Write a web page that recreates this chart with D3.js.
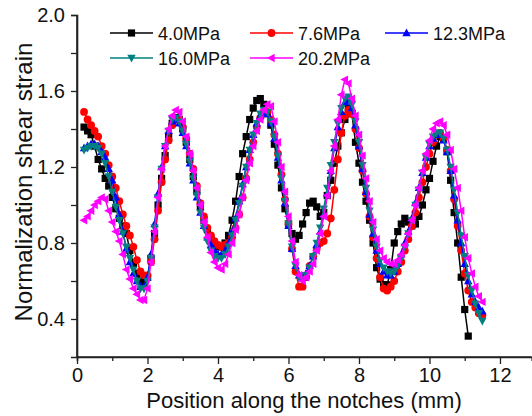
<!DOCTYPE html>
<html>
<head>
<meta charset="utf-8">
<script src="https://cdn.jsdelivr.net/npm/d3@7"></script>
<style>
  body { margin: 0; background: #fff; }
  svg { display: block; font-family: "Liberation Sans", Arial, sans-serif; }
</style>
</head>
<body>
<svg id="chart" width="532" height="416"></svg>
<script>
// measurement positions along the notches (mm)
const positions = [0.2,0.3,0.4,0.5,0.6,0.7,0.8,0.9,1.0,1.1,1.2,1.3,1.4,1.5,1.6,1.7,1.8,1.9,2.0,2.1,2.2,2.3,2.4,2.5,2.6,2.7,2.8,2.9,3.0,3.1,3.2,3.3,3.4,3.5,3.6,3.7,3.8,3.9,4.0,4.1,4.2,4.3,4.4,4.5,4.6,4.7,4.8,4.9,5.0,5.1,5.2,5.3,5.4,5.5,5.6,5.7,5.8,5.9,6.0,6.1,6.2,6.3,6.4,6.5,6.6,6.7,6.8,6.9,7.0,7.1,7.2,7.3,7.4,7.5,7.6,7.7,7.8,7.9,8.0,8.1,8.2,8.3,8.4,8.5,8.6,8.7,8.8,8.9,9.0,9.1,9.2,9.3,9.4,9.5,9.6,9.7,9.8,9.9,10.0,10.1,10.2,10.3,10.4,10.5,10.6,10.7,10.8,10.9,11.0,11.1,11.2,11.3,11.4,11.5];

// normalized shear strain, one value per position (black series stops at 11.1)
const strain4_0 = [1.41,1.39,1.37,1.31,1.24,1.19,1.14,1.10,1.04,0.98,0.93,0.89,0.85,0.76,0.69,0.64,0.60,0.58,0.62,0.72,0.85,1.00,1.14,1.26,1.36,1.43,1.46,1.45,1.40,1.33,1.24,1.15,1.07,0.99,0.92,0.87,0.82,0.79,0.78,0.78,0.80,0.84,0.92,1.02,1.15,1.27,1.36,1.45,1.51,1.55,1.56,1.53,1.48,1.42,1.32,1.21,1.09,0.98,0.90,0.85,0.82,0.84,0.90,0.96,1.01,1.02,0.99,0.94,0.96,1.05,1.13,1.22,1.31,1.38,1.45,1.51,1.48,1.33,1.22,1.12,1.02,0.92,0.80,0.67,0.61,0.58,0.58,0.66,0.80,0.86,0.90,0.93,0.91,0.89,0.90,0.94,1.00,1.08,1.14,1.23,1.31,1.36,1.35,1.28,1.13,0.96,0.80,0.62,0.45,0.31];
const strain7_6 = [1.49,1.45,1.42,1.39,1.36,1.31,1.27,1.21,1.15,1.09,1.02,0.95,0.89,0.84,0.78,0.71,0.65,0.63,0.63,0.70,0.82,0.97,1.12,1.24,1.34,1.42,1.45,1.45,1.41,1.35,1.27,1.19,1.10,1.01,0.94,0.88,0.84,0.81,0.79,0.78,0.79,0.80,0.83,0.88,0.95,1.04,1.14,1.24,1.33,1.41,1.46,1.49,1.49,1.45,1.37,1.27,1.16,1.03,0.90,0.77,0.65,0.57,0.57,0.62,0.68,0.73,0.77,0.80,0.81,0.85,0.93,1.08,1.24,1.38,1.47,1.50,1.48,1.40,1.30,1.18,1.06,0.94,0.83,0.72,0.62,0.56,0.55,0.57,0.60,0.65,0.70,0.76,0.82,0.89,0.96,1.04,1.12,1.20,1.27,1.33,1.37,1.38,1.35,1.29,1.18,1.03,0.89,0.76,0.64,0.55,0.49,0.46,0.43,0.42];
const strain12_3 = [1.30,1.31,1.32,1.32,1.31,1.28,1.25,1.19,1.13,1.04,0.95,0.86,0.77,0.70,0.64,0.60,0.57,0.57,0.62,0.74,0.90,1.06,1.20,1.31,1.39,1.44,1.45,1.43,1.38,1.31,1.22,1.13,1.04,0.96,0.89,0.83,0.79,0.76,0.74,0.74,0.76,0.80,0.86,0.93,1.02,1.11,1.20,1.29,1.37,1.43,1.47,1.49,1.48,1.43,1.35,1.25,1.13,1.01,0.89,0.77,0.68,0.63,0.62,0.64,0.68,0.73,0.79,0.86,0.95,1.06,1.18,1.30,1.41,1.49,1.54,1.55,1.51,1.42,1.31,1.19,1.07,0.95,0.85,0.76,0.69,0.65,0.63,0.63,0.65,0.69,0.74,0.80,0.86,0.93,1.01,1.09,1.17,1.25,1.31,1.35,1.37,1.37,1.34,1.28,1.18,1.05,0.92,0.80,0.69,0.60,0.53,0.49,0.46,0.44];
const strain16_0 = [1.29,1.30,1.31,1.31,1.30,1.27,1.22,1.15,1.07,0.99,0.92,0.85,0.78,0.72,0.66,0.60,0.56,0.56,0.60,0.72,0.88,1.04,1.19,1.31,1.39,1.45,1.46,1.44,1.39,1.32,1.23,1.14,1.05,0.96,0.88,0.81,0.76,0.73,0.72,0.72,0.74,0.78,0.84,0.92,1.01,1.10,1.20,1.29,1.37,1.43,1.48,1.50,1.49,1.44,1.36,1.26,1.14,1.02,0.90,0.78,0.68,0.62,0.61,0.63,0.67,0.73,0.80,0.88,0.98,1.09,1.21,1.33,1.43,1.51,1.56,1.57,1.53,1.44,1.33,1.21,1.09,0.97,0.87,0.78,0.71,0.67,0.65,0.64,0.65,0.68,0.72,0.78,0.85,0.92,1.00,1.08,1.17,1.25,1.32,1.36,1.38,1.38,1.35,1.29,1.20,1.08,0.96,0.84,0.73,0.63,0.55,0.48,0.43,0.39];
const strain20_2 = [0.92,0.94,0.97,1.00,1.02,1.04,1.03,0.97,0.91,0.86,0.81,0.74,0.66,0.61,0.56,0.53,0.50,0.50,0.56,0.70,0.86,1.04,1.19,1.31,1.40,1.47,1.50,1.49,1.44,1.36,1.27,1.18,1.09,1.00,0.91,0.83,0.75,0.70,0.67,0.66,0.69,0.74,0.80,0.87,0.95,1.04,1.13,1.22,1.31,1.39,1.45,1.50,1.53,1.52,1.44,1.33,1.20,1.07,0.94,0.81,0.70,0.63,0.60,0.62,0.65,0.69,0.76,0.85,0.94,1.05,1.18,1.31,1.45,1.58,1.66,1.64,1.56,1.47,1.37,1.26,1.14,1.02,0.91,0.82,0.76,0.72,0.70,0.69,0.69,0.71,0.74,0.79,0.85,0.92,1.00,1.09,1.18,1.27,1.34,1.40,1.43,1.44,1.42,1.37,1.29,1.19,1.09,0.97,0.83,0.72,0.64,0.57,0.52,0.49];

const seriesNames = ["4.0MPa", "7.6MPa", "12.3MPa", "16.0MPa", "20.2MPa"];
const seriesValues = [strain4_0, strain7_6, strain12_3, strain16_0, strain20_2];
const seriesColors = ["#000000", "#ff0000", "#0000ff", "#008080", "#ff00ff"];
const seriesShapes = ["square", "circle", "up", "down", "left"];

const xTicks = [0, 2, 4, 6, 8, 10, 12];
const xMinor = [1, 3, 5, 7, 9, 11];
const yTicks = [0.4, 0.8, 1.2, 1.6, 2.0];
const yMinor = [0.6, 1.0, 1.4, 1.8];

const svg = d3.select("#chart");
const margin = {left: 77, top: 15, bottom: 357};

const x = d3.scaleLinear().domain([0, 12.9]).range([margin.left, 531.7]);
const y = d3.scaleLinear().domain([0.2, 2.0]).range([margin.bottom, margin.top]);

// marker path for a given shape, centred on 0,0
function markerPath(shape) {
  const s = 3.6;
  switch (shape) {
    case "square": return `M${-s},${-s}H${s}V${s}H${-s}Z`;
    case "circle": return d3.symbol(d3.symbolCircle, 48)();
    case "up": return `M0,${-s - 1}L${s + 0.6},${s - 0.4}L${-s - 0.6},${s - 0.4}Z`;
    case "down": return `M0,${s + 1}L${s + 0.6},${-s + 0.4}L${-s - 0.6},${-s + 0.4}Z`;
    case "left": return `M${-s - 1},0L${s - 0.4},${-s - 0.6}L${s - 0.4},${s + 0.6}Z`;
  }
}

// axes
const axisColor = "#222";
const gx = svg.append("g").attr("transform", `translate(0,${margin.bottom})`);
gx.call(d3.axisBottom(x).tickValues(xTicks).tickSize(7).tickPadding(4).tickFormat(d3.format("d")));
gx.append("g").call(d3.axisBottom(x).tickValues(xMinor).tickSize(4).tickFormat(""));

const gy = svg.append("g").attr("transform", `translate(${margin.left},0)`);
gy.call(d3.axisLeft(y).tickValues(yTicks).tickSize(6).tickPadding(6).tickFormat(d3.format(".1f")));
gy.append("g").call(d3.axisLeft(y).tickValues(yMinor).tickSize(6).tickFormat(""));

// plain axis lines without end caps; minor-tick axes keep only their ticks
svg.selectAll("g > g > g > .domain").remove();
svg.selectAll(".domain").attr("stroke", axisColor).attr("stroke-width", 1.6);
gx.select(".domain").attr("d", `M${x(0)},0H${x.range()[1]}`);
gy.select(".domain").attr("d", `M0,${y(0.2)}V${y(2.0)}`);
svg.selectAll(".tick line").attr("stroke", axisColor).attr("stroke-width", 1.3);
svg.selectAll(".tick text").attr("fill", "#111").style("font-size", "20px")
  .style("font-family", "'Liberation Sans', Arial, sans-serif");

// axis titles
svg.append("text")
  .attr("x", 304).attr("y", 408)
  .attr("text-anchor", "middle")
  .style("font-size", "22px").attr("fill", "#111")
  .text("Position along the notches (mm)");
svg.append("text")
  .attr("transform", `translate(32,182) rotate(-90)`)
  .attr("text-anchor", "middle")
  .style("font-size", "24px").attr("fill", "#111")
  .text("Normalization shear strain");

// series
const line = d3.line().x(d => x(d[0])).y(d => y(d[1]));
seriesValues.forEach((vals, i) => {
  const pts = vals.map((v, j) => [positions[j], v]);
  const g = svg.append("g");
  g.append("path").datum(pts)
    .attr("fill", "none").attr("stroke", seriesColors[i]).attr("stroke-width", 1.5)
    .attr("d", line);
  g.selectAll("path.m").data(pts).join("path").attr("class", "m")
    .attr("transform", d => `translate(${x(d[0])},${y(d[1])})`)
    .attr("d", markerPath(seriesShapes[i]))
    .attr("fill", seriesColors[i]);
});

// legend
const legendCols = [110, 250, 385];
const legendRows = [33, 58];
seriesNames.forEach((name, i) => {
  const cx = legendCols[i % 3], cy = legendRows[Math.floor(i / 3)];
  const g = svg.append("g").attr("transform", `translate(${cx},${cy})`);
  g.append("line").attr("x1", 0).attr("x2", 43).attr("stroke", seriesColors[i]).attr("stroke-width", 1.5);
  g.append("path").attr("transform", "translate(21.5,0)").attr("d", markerPath(seriesShapes[i]))
    .attr("fill", seriesColors[i]);
  g.append("text").attr("x", 48).attr("y", 6.5)
    .style("font-size", "18px").attr("fill", "#111").text(name);
});
</script>
</body>
</html>
